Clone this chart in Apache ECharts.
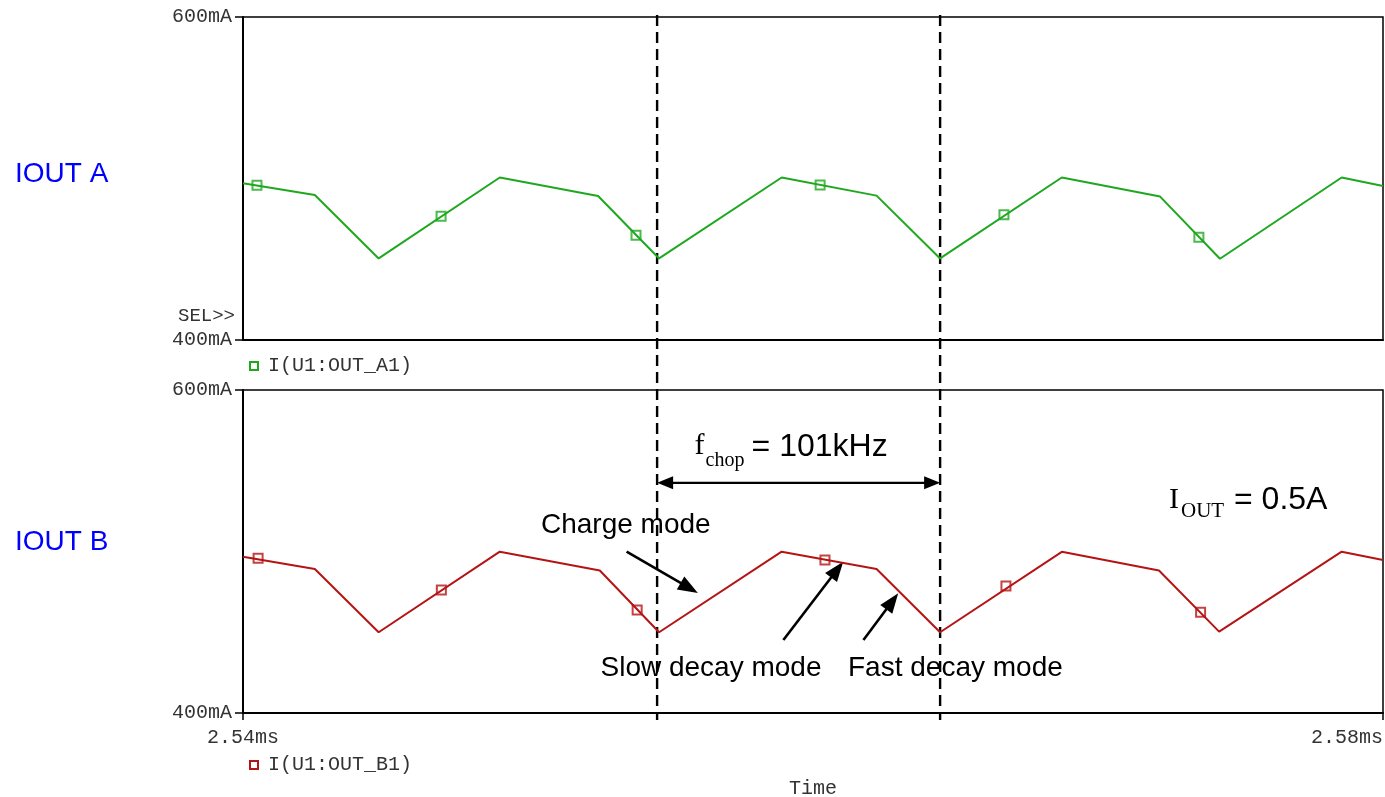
<!DOCTYPE html>
<html>
<head>
<meta charset="utf-8">
<title>Output currents IOUT A / IOUT B</title>
<script src="https://cdn.jsdelivr.net/npm/echarts@6/dist/echarts.min.js"></script>
<style>
  html, body { margin: 0; padding: 0; background: #ffffff; }
  #chart { width: 1385px; height: 797px; }
</style>
</head>
<body>
<div id="chart"></div>
<script>
// ---- data (time in ms, current in mA) ----
const timeRange = [2.54, 2.58];
const currentRange = [400, 600];
const timeTicks = [2.54, 2.58];
const seriesNames = ['I(U1:OUT_A1)', 'I(U1:OUT_B1)'];
const panelLabels = ['IOUT A', 'IOUT B'];

// waveform break points of winding A
const outA = [
  [2.54000, 497.0], [2.54252, 489.8], [2.54476, 450.5], [2.54901, 500.6],
  [2.55246, 489.2], [2.55460, 450.5], [2.55890, 500.6], [2.56223, 489.4],
  [2.56446, 450.5], [2.56873, 500.6], [2.57218, 488.8], [2.57428, 450.3],
  [2.57855, 500.6], [2.58000, 495.4]
];
// waveform break points of winding B
const outB = [
  [2.54000, 496.8], [2.54252, 489.2], [2.54476, 450.0], [2.54901, 499.9],
  [2.55252, 488.2], [2.55460, 450.0], [2.55890, 499.9], [2.56223, 489.2],
  [2.56446, 450.0], [2.56873, 499.8], [2.57214, 488.2], [2.57425, 450.4],
  [2.57855, 499.9], [2.58000, 494.7]
];
// trace markers
const markersA = [
  [2.54049, 495.8], [2.54695, 476.6], [2.55379, 464.8],
  [2.56025, 496.0], [2.56670, 477.6], [2.57354, 463.6]
];
const markersB = [
  [2.54053, 495.8], [2.54696, 476.2], [2.55383, 463.8],
  [2.56042, 494.7], [2.56677, 478.6], [2.57360, 462.4]
];
// one chopping period (start and end of the charge phase)
const chopEdges = [2.55453, 2.56446];
const chopText = '= 101kHz';
const ioutText = '= 0.5A';

const GREEN = '#1fa81f';
const RED = '#b41414';
const AXIS = '#000000';
const MONO = '"Liberation Mono", "DejaVu Sans Mono", monospace';
const SANS = '"Liberation Sans", Arial, sans-serif';
const SERIF = '"Liberation Serif", "Times New Roman", serif';

const chart = echarts.init(document.getElementById('chart'), null, { renderer: 'canvas' });

function makeY(gridIndex) {
  return {
    type: 'value', gridIndex,
    min: currentRange[0], max: currentRange[1], interval: 200,
    axisLine: { show: true, lineStyle: { color: AXIS, width: 2 } },
    axisTick: { show: true, length: 8, lineStyle: { color: AXIS, width: 1.5 } },
    axisLabel: {
      margin: 11, color: '#333', fontFamily: MONO, fontSize: 20,
      formatter: v => v + 'mA'
    },
    splitLine: { show: false }
  };
}

function makeLegend(top, name, color) {
  return {
    left: 244, top, orient: 'horizontal', itemWidth: 8, itemHeight: 8,
    textStyle: { color: '#333', fontFamily: MONO, fontSize: 20, padding: [0, 0, 0, 5] },
    data: [{ name, icon: 'rect', itemStyle: { color: '#fff', borderColor: color, borderWidth: 2 } }]
  };
}

function makeGrid(top) {
  return {
    left: 243, right: 2, top, height: 323, show: true,
    outerBoundsMode: 'none', containLabel: false,
    borderColor: AXIS, borderWidth: 1.5, backgroundColor: 'transparent'
  };
}

const option = {
  animation: false,
  backgroundColor: '#ffffff',
  grid: [makeGrid(17), makeGrid(390)],
  xAxis: [
    {
      type: 'value', gridIndex: 0, min: timeRange[0], max: timeRange[1],
      axisLine: { show: true, lineStyle: { color: AXIS, width: 2 } },
      axisTick: { show: false }, axisLabel: { show: false }, splitLine: { show: false }
    },
    {
      type: 'value', gridIndex: 1, min: timeRange[0], max: timeRange[1],
      axisLine: { show: true, lineStyle: { color: AXIS, width: 2 } },
      axisTick: { show: true, length: 7, customValues: timeTicks, lineStyle: { color: AXIS, width: 1.5 } },
      axisLabel: {
        customValues: timeTicks, margin: 15, color: '#333', fontFamily: MONO, fontSize: 20,
        alignMinLabel: 'center', alignMaxLabel: 'right',
        formatter: v => v.toFixed(2) + 'ms'
      },
      splitLine: { show: false },
      name: 'Time', nameLocation: 'middle', nameGap: 66,
      nameTextStyle: { color: '#333', fontFamily: MONO, fontSize: 20 }
    }
  ],
  yAxis: [makeY(0), makeY(1)],
  legend: [
    makeLegend(351, seriesNames[0], GREEN),
    makeLegend(750, seriesNames[1], RED)
  ],
  series: [
    {
      name: seriesNames[0], type: 'line', xAxisIndex: 0, yAxisIndex: 0,
      data: outA, showSymbol: false, lineStyle: { color: GREEN, width: 2 }, itemStyle: { color: GREEN }
    },
    {
      name: seriesNames[0], type: 'scatter', xAxisIndex: 0, yAxisIndex: 0,
      data: markersA, symbol: 'emptyRect', symbolSize: 9,
      itemStyle: { color: GREEN, borderWidth: 1.8 }
    },
    {
      name: seriesNames[1], type: 'line', xAxisIndex: 1, yAxisIndex: 1,
      data: outB, showSymbol: false, lineStyle: { color: RED, width: 2 }, itemStyle: { color: RED }
    },
    {
      name: seriesNames[1], type: 'scatter', xAxisIndex: 1, yAxisIndex: 1,
      data: markersB, symbol: 'emptyRect', symbolSize: 9,
      itemStyle: { color: RED, borderWidth: 1.8 }
    }
  ]
};

chart.setOption(option);

// ---- annotations, placed from axis coordinates ----
const px = (grid, t, v) => chart.convertToPixel({ xAxisIndex: grid, yAxisIndex: grid }, [t, v]);

function arrowHead(tip, from, len, half) {
  const dx = tip[0] - from[0], dy = tip[1] - from[1];
  const d = Math.hypot(dx, dy) || 1;
  const ux = dx / d, uy = dy / d;
  const bx = tip[0] - ux * len, by = tip[1] - uy * len;
  return {
    type: 'polygon', silent: true,
    shape: { points: [tip, [bx - uy * half, by + ux * half], [bx + uy * half, by - ux * half]] },
    style: { fill: '#000' }
  };
}
function arrowLine(from, tip, len, half) {
  const dx = tip[0] - from[0], dy = tip[1] - from[1];
  const d = Math.hypot(dx, dy) || 1;
  const end = [tip[0] - dx / d * (len - 2), tip[1] - dy / d * (len - 2)];
  return [
    { type: 'line', silent: true, shape: { x1: from[0], y1: from[1], x2: end[0], y2: end[1] }, style: { stroke: '#000', lineWidth: 2.6 } },
    arrowHead(tip, from, len, half)
  ];
}
function label(text, x, y, font, color, align) {
  return {
    type: 'text', silent: true, x, y,
    style: { text, font, fill: color || '#000', align: align || 'left', verticalAlign: 'middle', textAlign: align || 'left', textVerticalAlign: 'middle' }
  };
}

const els = [];

// chopping period boundaries across both panels
chopEdges.forEach(t => {
  const x = chart.convertToPixel({ xAxisIndex: 0 }, t);
  els.push({ type: 'line', silent: true, shape: { x1: x, y1: 15, x2: x, y2: 720 },
    style: { stroke: '#000', lineWidth: 2.4, lineDash: [11, 6] } });
});

// double arrow spanning one period
const pL = px(1, chopEdges[0], 542.5);
const pR = px(1, chopEdges[1], 542.5);
els.push({ type: 'line', silent: true, shape: { x1: pL[0] + 12, y1: pL[1], x2: pR[0] - 12, y2: pR[1] }, style: { stroke: '#000', lineWidth: 2.4 } });
els.push(arrowHead(pL, pR, 16, 6.5));
els.push(arrowHead(pR, pL, 16, 6.5));

// f_chop label
const mid = (pL[0] + pR[0]) / 2;
els.push(label('f', mid - 104, 446, '30px ' + SERIF));
els.push(label('chop', mid - 93, 461, '20px ' + SERIF));
els.push(label(chopText, mid - 47, 447, '32px ' + SANS));

// I_OUT label
els.push(label('I', 1169, 500, '30px ' + SERIF));
els.push(label('OUT', 1181, 511, '21px ' + SERIF));
els.push(label(ioutText, 1234, 500, '32px ' + SANS));

// mode annotations on winding B
const modeArrows = [
  { from: [2.55346, 499.9], tip: [2.55596, 474.3] },
  { from: [2.55896, 445.2], tip: [2.56106, 493.7] },
  { from: [2.56177, 445.2], tip: [2.56299, 474.1] }
];
modeArrows.forEach(a => {
  els.push(...arrowLine(px(1, a.from[0], a.from[1]), px(1, a.tip[0], a.tip[1]), 20, 7.5));
});
els.push(label('Charge mode', 541, 525, '28px ' + SANS));
els.push(label('Slow decay mode', 711, 668, '28px ' + SANS, '#000', 'center'));
els.push(label('Fast decay mode', 848, 668, '28px ' + SANS));

// panel names and selection tag
els.push(label(panelLabels[0], 15, 174, '28px ' + SANS, '#0000ff'));
els.push(label(panelLabels[1], 15, 542, '28px ' + SANS, '#0000ff'));
els.push(label('SEL>>', 235, 316, '19px ' + MONO, '#333', 'right'));

chart.setOption({ graphic: { elements: els } });
</script>
</body>
</html>
